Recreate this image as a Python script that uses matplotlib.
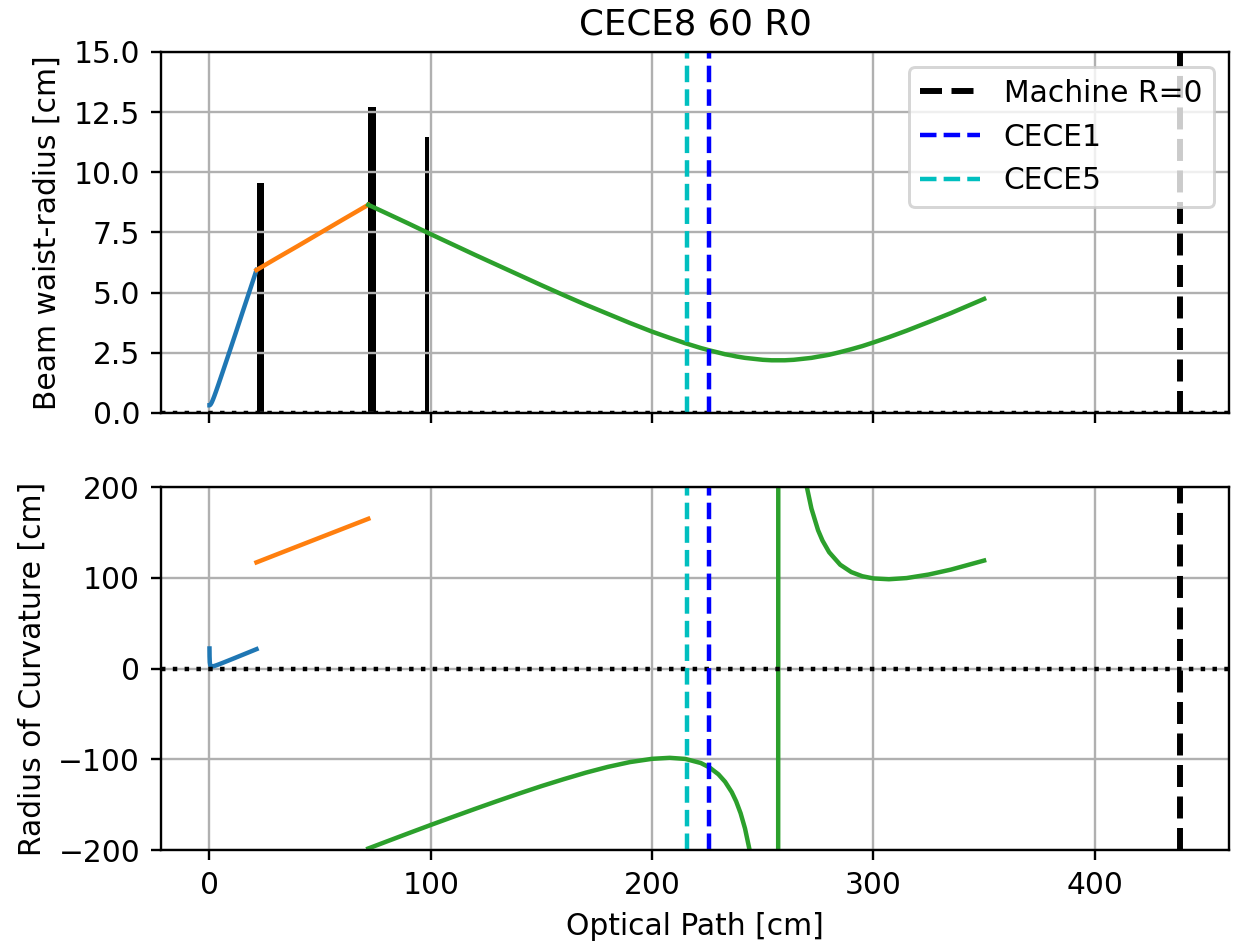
import matplotlib
matplotlib.use("Agg")
import matplotlib.pyplot as plt

# beam segments (optical path in cm)
blue_z = [0.06, 0.1, 0.2, 0.4, 0.7, 1.1, 1.6, 2.2, 3, 4, 6, 9, 12, 15, 18, 21.3]
blue_w = [0.32, 0.32, 0.325, 0.339, 0.375, 0.443, 0.548, 0.691, 0.894, 1.158, 1.70, 2.52, 3.35, 4.19, 5.02, 5.94]
blue_R = [22.1, 13.3, 6.81, 3.71, 2.59, 2.30, 2.43, 2.80, 3.44, 4.33, 6.22, 9.15, 12.11, 15.09, 18.07, 21.36]

orange_z = [21.3, 30, 40, 50, 60, 71.8]
orange_w = [5.94, 6.41, 6.94, 7.48, 8.02, 8.65]
orange_R = [117.0, 125.3, 134.8, 144.3, 153.8, 165.0]

green_z = [71.8, 80, 90, 100, 110, 120, 130, 140, 150, 160, 170, 180, 190, 200, 208, 215,
           222, 226, 230, 233, 236, 238, 240, 242, 244, 246, 248, 250, 252, 254, 255, 256.5,
           257.5, 259, 260, 262, 264, 266, 268, 270, 272, 275, 277, 280, 285, 290, 295, 300,
           307, 315, 325, 335, 350]
green_w = [8.65, 8.30, 7.87, 7.43, 7.00, 6.57, 6.15, 5.73, 5.31, 4.90, 4.50, 4.12, 3.74, 3.38, 3.12, 2.90,
           2.70, 2.60, 2.51, 2.44, 2.39, 2.35, 2.32, 2.29, 2.27, 2.25, 2.23, 2.21, 2.20, 2.19, 2.19, 2.19,
           2.19, 2.19, 2.19, 2.20, 2.21, 2.23, 2.25, 2.27, 2.29, 2.34, 2.37, 2.42, 2.53, 2.65, 2.78, 2.93,
           3.15, 3.42, 3.78, 4.15, 4.74]
green_R = [-198.3, -190.7, -181.5, -172.4, -163.5, -154.7, -146.1, -137.7, -129.6, -122.0, -114.8, -108.4,
           -103.1, -99.5, -98.4, -99.6, -104.1, -109.1, -116.6, -124.8, -136.2, -146.4, -159.4, -176.3,
           -199.2, -231, -277.9, -352.7, -489, -809.7, -1212, -4841,
           4841, 1212, 809.7, 489, 352.7, 277.9, 231, 199.2, 176.3, 152.4, 141, 128.2, 114.4, 106.3,
           101.7, 99.3, 98.4, 99.7, 103.6, 109.0, 119.0]

# lenses: left edge, thickness, aperture radius
lens_z = [21.3, 71.8, 97.6]
lens_t = [3.3, 3.4, 1.6]
lens_r = [9.55, 12.7, 11.45]

machine_R0 = 438.7
cece1 = 225.7
cece5 = 215.8

fig = plt.figure(figsize=(1238 / 214, 947 / 214), dpi=214)
ax1 = fig.add_axes([0.130, 0.5639, 0.8627, 0.3812])
ax2 = fig.add_axes([0.130, 0.1024, 0.8627, 0.3833], sharex=ax1)

ax1.bar(lens_z, lens_r, width=lens_t, align='edge', color='k')
ax1.plot(blue_z, blue_w)
ax1.plot(orange_z, orange_w)
ax1.plot(green_z, green_w)
ax1.axhline(0, color='k', linestyle=':', lw=1.5)
ax1.axvline(machine_R0, color='k', linestyle='--', lw=2.0, label='Machine R=0')
ax1.axvline(cece1, color='b', linestyle='--', lw=1.5, label='CECE1')
ax1.axvline(cece5, color='c', linestyle='--', lw=1.5, label='CECE5')
ax1.set_ylim(0, 15)
ax1.set_ylabel('Beam waist-radius [cm]')
ax1.set_title('CECE8 60 R0')
ax1.legend(loc='upper right')
ax1.grid(True)
ax1.tick_params(labelbottom=False)

ax2.plot(blue_z, blue_R)
ax2.plot(orange_z, orange_R)
ax2.plot(green_z, green_R)
ax2.axhline(0, color='k', linestyle=':', lw=1.5)
ax2.axvline(machine_R0, color='k', linestyle='--', lw=2.0)
ax2.axvline(cece1, color='b', linestyle='--', lw=1.5)
ax2.axvline(cece5, color='c', linestyle='--', lw=1.5)
ax2.set_ylim(-200, 200)
ax2.set_ylabel('Radius of Curvature [cm]')
ax2.set_xlabel('Optical Path [cm]')
ax2.grid(True)

fig.savefig('out.png', dpi=214)
